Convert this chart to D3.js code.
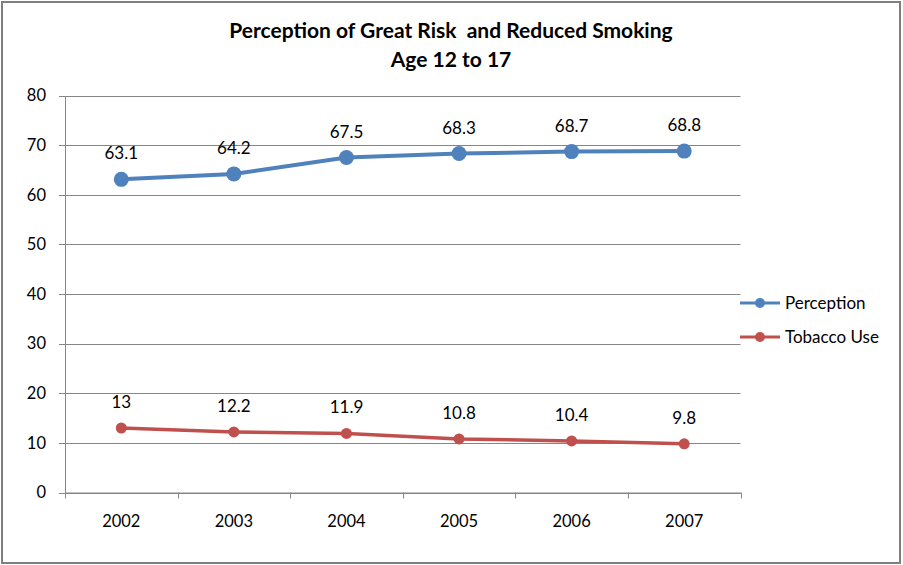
<!DOCTYPE html>
<html>
<head>
<meta charset="utf-8">
<script src="https://cdn.jsdelivr.net/npm/d3@7"></script>
<style>
  body { margin: 0; background: #fff; }
  svg { display: block; }
  svg text { font-family: Lato, "Open Sans", sans-serif; }
</style>
</head>
<body>
<svg id="chart" width="903" height="565"></svg>
<script>
var years = ["2002", "2003", "2004", "2005", "2006", "2007"];
var perception = [63.1, 64.2, 67.5, 68.3, 68.7, 68.8];
var tobaccoUse = [13, 12.2, 11.9, 10.8, 10.4, 9.8];
var yTicks = [0, 10, 20, 30, 40, 50, 60, 70, 80];
var seriesNames = ["Perception", "Tobacco Use"];

var svg = d3.select("#chart");
var plotLeft = 65, plotRight = 740.5, plotTop = 95.5, plotBottom = 492.5;

svg.append("rect").attr("x", 2).attr("y", 2).attr("width", 898).attr("height", 561)
  .attr("fill", "#fff").attr("stroke", "#7f7f7f").attr("stroke-width", 2);

svg.append("text").attr("x", 451).attr("y", 38).attr("text-anchor", "middle")
  .attr("xml:space", "preserve")
  .style("font-size", "21px").style("font-weight", "bold")
  .text("Perception of Great Risk  and Reduced Smoking");
svg.append("text").attr("x", 451).attr("y", 67).attr("text-anchor", "middle")
  .style("font-size", "21px").style("font-weight", "bold").text("Age 12 to 17");

var x = d3.scaleBand().domain(years).range([plotLeft, plotRight]);
var y = d3.scaleLinear().domain([0, 80]).range([plotBottom, plotTop]);

// gridlines
svg.append("g").selectAll("line").data(yTicks).enter().append("line")
  .attr("x1", plotLeft - 6).attr("x2", plotRight)
  .attr("y1", function(d){ return Math.round(y(d)) + 0.5; })
  .attr("y2", function(d){ return Math.round(y(d)) + 0.5; })
  .attr("stroke", "#868686").attr("stroke-width", 1);

// y axis
var yAxis = svg.append("g").attr("transform", "translate(" + plotLeft + ",0)")
  .call(d3.axisLeft(y).tickValues(yTicks).tickSize(0).tickPadding(19));
yAxis.select(".domain").attr("stroke", "#868686");
yAxis.selectAll("text").style("font-size", "16.5px").attr("fill", "#000");

// x axis
var xAxis = svg.append("g").attr("transform", "translate(0," + plotBottom + ")")
  .call(d3.axisBottom(x).tickSize(0).tickPadding(23));
xAxis.select(".domain").attr("stroke", "#868686");
xAxis.selectAll("text").style("font-size", "16.5px").attr("fill", "#000");
var bounds = years.map(function(d){ return x(d); }).concat([plotRight]);
svg.append("g").selectAll("line").data(bounds).enter().append("line")
  .attr("x1", function(d){ return Math.round(d) + 0.5; })
  .attr("x2", function(d){ return Math.round(d) + 0.5; })
  .attr("y1", plotBottom).attr("y2", plotBottom + 6).attr("stroke", "#868686");

var series = [
  { name: seriesNames[0], values: perception, color: "#4f81bd", width: 4, r: 7.5 },
  { name: seriesNames[1], values: tobaccoUse, color: "#c0504d", width: 3.5, r: 5.5 }
];
var cx = function(i){ return x(years[i]) + x.bandwidth() / 2; };
var line = d3.line().x(function(d, i){ return cx(i); }).y(function(d){ return y(d); });

series.forEach(function(s){
  svg.append("path").datum(s.values).attr("d", line)
    .attr("fill", "none").attr("stroke", s.color).attr("stroke-width", s.width);
  svg.append("g").selectAll("circle").data(s.values).enter().append("circle")
    .attr("cx", function(d, i){ return cx(i); }).attr("cy", function(d){ return y(d); })
    .attr("r", s.r).attr("fill", s.color);
  svg.append("g").selectAll("text").data(s.values).enter().append("text")
    .attr("x", function(d, i){ return cx(i); }).attr("y", function(d){ return y(d) - 20; })
    .attr("text-anchor", "middle").style("font-size", "17px").text(function(d){ return d; });
});

// legend
var legend = svg.append("g").selectAll("g").data(series).enter().append("g")
  .attr("transform", function(d, i){ return "translate(740," + (303 + i * 34) + ")"; });
legend.append("line").attr("x1", 0).attr("x2", 40).attr("stroke", function(d){ return d.color; })
  .attr("stroke-width", 3);
legend.append("circle").attr("cx", 20).attr("r", 5).attr("fill", function(d){ return d.color; });
legend.append("text").attr("x", 45).attr("dy", "0.35em").style("font-size", "17px")
  .text(function(d){ return d.name; });
</script>
</body>
</html>
